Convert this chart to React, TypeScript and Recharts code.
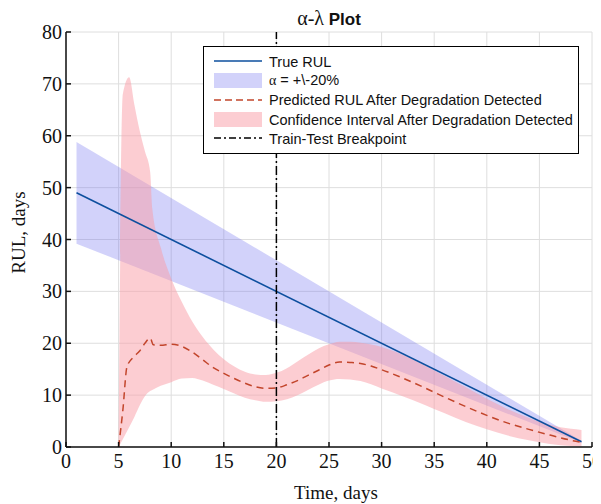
import React from 'react';
import {
  ComposedChart,
  Line,
  Area,
  XAxis,
  YAxis,
  CartesianGrid,
  ReferenceLine,
  Legend,
} from 'recharts';

// ---- Data ----
const TRUE_T = [1, 49];
const TRUE_RUL = [49, 1];
const ALPHA_LOW = [39.2, 0.8];
const ALPHA_HIGH = [58.8, 1.2];

const PRED_T = [5, 5.4, 5.8, 6.5, 7, 7.5, 8, 8.3, 9, 10, 11, 12, 13, 14, 15, 16, 17, 18, 19, 20, 21, 22, 23, 24, 25, 26, 27, 28, 29, 30, 32, 34, 36, 38, 40, 42, 44, 46, 48, 49];
const PRED_RUL = [0, 7, 15.5, 17.5, 18.5, 20, 21, 19.7, 19.6, 19.8, 19.4, 18.3, 16.8, 15.3, 14.2, 13.2, 12.3, 11.6, 11.3, 11.4, 12, 12.8, 13.8, 14.8, 15.8, 16.4, 16.3, 16.1, 15.6, 14.9, 13.3, 11.5, 9.6, 7.8, 6.1, 4.6, 3.4, 2.3, 1.3, 0.9];

const CI_T = [5, 5.4, 6, 6.5, 7, 7.5, 8, 8.2, 9, 10, 11, 12, 13, 14, 15, 16, 17, 18, 19, 20, 21, 22, 23, 24, 25, 26, 27, 28, 30, 32, 34, 36, 38, 40, 42, 44, 46, 48, 49];
const CI_LOW = [0, 1.5, 3.8, 5.8, 8.0, 9.8, 10.8, 11, 11.8, 12.5, 13.2, 13.3, 12.8, 12.0, 11.2, 10.3, 9.5, 9.0, 8.7, 8.8, 9.2, 10, 11, 12, 12.8, 13.1, 13, 12.7, 11.3, 9.8, 8.2, 6.5, 4.8, 3.4, 2.2, 1.3, 0.6, 0.2, 0.1];
const CI_HIGH = [0, 68, 71.3, 66, 61, 57, 53, 46, 38.5, 32.5, 28, 24.2, 21.2, 18.8, 16.9, 15.5, 14.5, 14, 13.9, 14.3, 15.2, 16.5, 17.8, 19, 19.8, 20.3, 20.3, 20.1, 19.3, 17.8, 15.8, 13.7, 11.5, 9.3, 7.3, 5.6, 4.3, 3.5, 3.3];

const BREAKPOINT = 20;
const X_TICKS = [0, 5, 10, 15, 20, 25, 30, 35, 40, 45, 50];
const Y_TICKS = [0, 10, 20, 30, 40, 50, 60, 70, 80];

const LEGEND_LABELS = [
  'True RUL',
  'α = +\\-20%',
  'Predicted RUL After Degradation Detected',
  'Confidence Interval After Degradation Detected',
  'Train-Test Breakpoint',
];

// ---- Build table ----
const allT = Array.from(new Set([...TRUE_T, ...PRED_T, ...CI_T])).sort((a, b) => a - b);
const data = allT.map((t) => {
  const row: any = { t };
  const i1 = TRUE_T.indexOf(t);
  if (i1 >= 0) {
    row.trueRul = TRUE_RUL[i1];
    row.alpha = [ALPHA_LOW[i1], ALPHA_HIGH[i1]];
  }
  const i2 = PRED_T.indexOf(t);
  if (i2 >= 0) row.pred = PRED_RUL[i2];
  const i3 = CI_T.indexOf(t);
  if (i3 >= 0) row.ci = [CI_LOW[i3], CI_HIGH[i3]];
  return row;
});

const BLUE_LINE = '#0d4f9e';
const RED_DASH = '#c2452b';
const BLUE_FILL = 'rgb(105,105,238)';
const BLUE_OP = 0.3;
const PINK_FILL = 'rgb(249,155,165)';
const PINK_OP = 0.5;

const renderLegend = () => {
  const swatch = (i: number) => {
    if (i === 0) return <line x1={0} y1={8} x2={48} y2={8} stroke={BLUE_LINE} strokeWidth={1.5} />;
    if (i === 1) return <rect x={0} y={1} width={48} height={15} fill={BLUE_FILL} fillOpacity={BLUE_OP} />;
    if (i === 2) return <line x1={0} y1={8} x2={48} y2={8} stroke={RED_DASH} strokeWidth={1.5} strokeDasharray="7 4" />;
    if (i === 3) return <rect x={0} y={1} width={48} height={15} fill={PINK_FILL} fillOpacity={PINK_OP} />;
    return <line x1={0} y1={8} x2={48} y2={8} stroke="#000" strokeWidth={1.5} strokeDasharray="7 3 2 3" />;
  };
  return (
    <div
      style={{
        background: '#fff',
        border: '1.5px solid #000',
        width: 376,
        height: 108,
        boxSizing: 'border-box',
        padding: '5px 0 0 10px',
        fontFamily: '"Liberation Sans", Arial, sans-serif',
        fontSize: 14.5,
        color: '#111',
      }}
    >
      {LEGEND_LABELS.map((label, i) => (
        <div key={i} style={{ display: 'flex', alignItems: 'center', height: 19.3 }}>
          <svg width={50} height={17} style={{ marginRight: 5, flex: 'none' }}>
            {swatch(i)}
          </svg>
          <span style={{ whiteSpace: 'nowrap' }}>
            {i === 1 ? (
              <>
                <span style={{ fontFamily: '"Liberation Serif", serif', fontSize: 14 }}>α</span>
                {' = +\\-20%'}
              </>
            ) : (
              label
            )}
          </span>
        </div>
      ))}
    </div>
  );
};

export default function App() {
  return (
    <div style={{ position: 'relative', width: 593, height: 496 }}>
      <div
        style={{
          position: 'absolute',
          left: 0,
          width: 642,
          top: 0,
          textAlign: 'center',
          fontSize: 17,
          lineHeight: '20px',
          color: '#111',
          zIndex: 2,
        }}
      >
        <span style={{ fontFamily: '"Liberation Serif", serif', fontSize: 20 }}>α-λ</span>
        <span style={{ fontFamily: '"Liberation Sans", Arial, sans-serif', fontWeight: 'bold' }}> Plot</span>
      </div>
      <ComposedChart
        width={593}
        height={496}
        data={data}
        margin={{ top: 24, right: 9, bottom: 0, left: 0 }}
      >
        <CartesianGrid stroke="#dedede" strokeWidth={1} />
        <XAxis
          dataKey="t"
          type="number"
          domain={[0, 50]}
          ticks={X_TICKS}
          height={57}
          tickSize={-5}
          tickMargin={12}
          interval={0}
          stroke="#111"
          strokeWidth={1.5}
          tick={{ fill: '#111', fontSize: 20, fontFamily: '"Liberation Serif", serif' }}
          label={{
            value: 'Time, days',
            position: 'insideBottom',
            offset: 5,
            dx: 7,
            style: { fill: '#111', fontSize: 19, fontFamily: '"Liberation Serif", serif' },
          }}
          allowDataOverflow
        />
        <YAxis
          type="number"
          domain={[0, 80]}
          ticks={Y_TICKS}
          width={58}
          tickSize={-5}
          tickMargin={9}
          interval={0}
          stroke="#111"
          strokeWidth={1.5}
          tick={{ fill: '#111', fontSize: 20, fontFamily: '"Liberation Serif", serif' }}
          label={{
            value: 'RUL, days',
            angle: -90,
            position: 'insideLeft',
            offset: 10,
            dy: -7,
            style: { fill: '#111', fontSize: 19, fontFamily: '"Liberation Serif", serif', textAnchor: 'middle' },
          }}
          allowDataOverflow
        />
        <Line
          dataKey="trueRul"
          type="linear"
          stroke={BLUE_LINE}
          strokeWidth={1.6}
          dot={false}
          connectNulls
          isAnimationActive={false}
        />
        <Area
          dataKey="alpha"
          type="linear"
          stroke="none"
          fill={BLUE_FILL}
          fillOpacity={BLUE_OP}
          connectNulls
          isAnimationActive={false}
        />
        <Line
          dataKey="pred"
          type="monotone"
          stroke={RED_DASH}
          strokeWidth={1.5}
          strokeDasharray="7 5"
          dot={false}
          connectNulls
          isAnimationActive={false}
        />
        <Area
          dataKey="ci"
          type="monotone"
          stroke="none"
          fill={PINK_FILL}
          fillOpacity={PINK_OP}
          connectNulls
          isAnimationActive={false}
        />
        <ReferenceLine x={BREAKPOINT} stroke="#000" strokeWidth={1.5} strokeDasharray="9 3 2 3" />
        <Legend
          layout="horizontal"
          verticalAlign="middle"
          align="center"
          content={renderLegend}
          wrapperStyle={{ left: 195, top: 38, width: 376, height: 108 }}
        />
      </ComposedChart>
    </div>
  );
}
